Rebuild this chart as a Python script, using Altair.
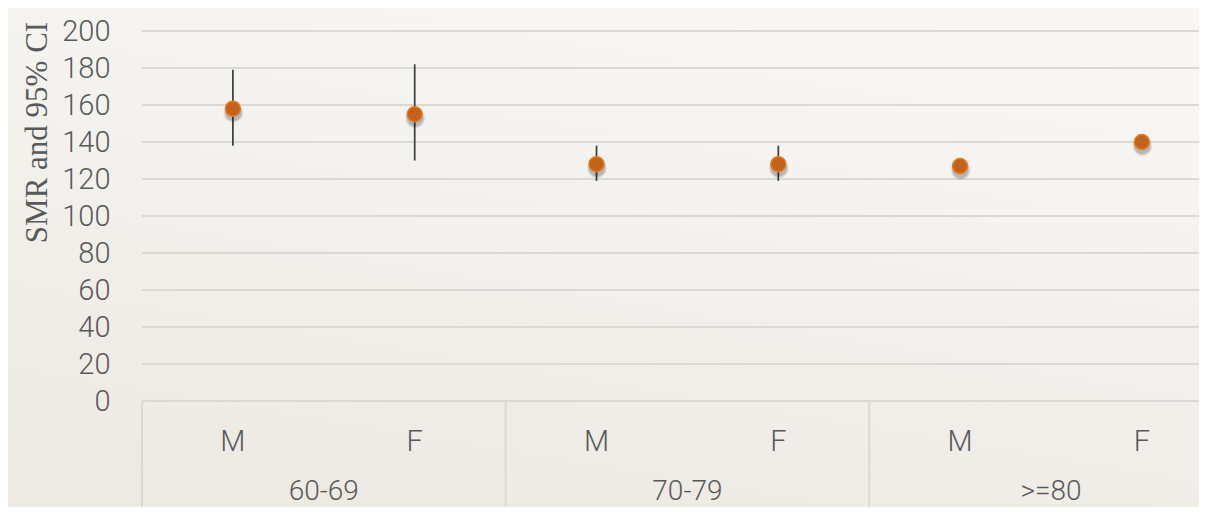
import altair as alt
import pandas as pd

# ---- data ----
positions = [0, 1, 2, 3, 4, 5]
sexes = ["M", "F", "M", "F", "M", "F"]
groups = ["60-69", "60-69", "70-79", "70-79", ">=80", ">=80"]
smr = [158, 155, 128, 128, 127, 140]
ci_low = [138, 130, 119, 119, 124, 137]
ci_high = [179, 182, 138, 138, 130, 143]

y_ticks = [0, 20, 40, 60, 80, 100, 120, 140, 160, 180, 200]
group_names = ["60-69", "70-79", ">=80"]
group_centers = [0.5, 2.5, 4.5]
separators = [-0.5, 1.5, 3.5]

df = pd.DataFrame({"pos": positions, "sex": sexes, "group": groups,
                   "smr": smr, "lo": ci_low, "hi": ci_high})
gdf = pd.DataFrame({"pos": group_centers, "group": group_names})
sdf = pd.DataFrame({"pos": separators})
tdf = pd.DataFrame({"v": y_ticks})

W, H = 1057, 370
BOTTOM = 106
LABEL_FONT = "Roboto"
LABEL_COLOR = "#595959"
GRID_COLOR = "#dbd9d4"

xscale = alt.Scale(domain=[-0.5, 5.314], nice=False, zero=False)
yscale = alt.Scale(domain=[0, 200], nice=False)

yaxis = alt.Axis(values=y_ticks, title="SMR and 95% CI",
                 grid=False, domain=False, ticks=False, tickSize=0,
                 zindex=1, labelOverlap=False, labelBound=False,
                 labelFont=LABEL_FONT, labelFontSize=29, labelFontWeight=300,
                 labelColor=LABEL_COLOR, labelPadding=32,
                 titleFont="Liberation Serif", titleFontSize=31,
                 titleFontWeight="normal", titleColor=LABEL_COLOR,
                 titleAngle=270, titleX=-105, titleY=101,
                 titleAlign="center", titleBaseline="middle")

x_enc = alt.X("pos:Q", scale=xscale, axis=None)

bg = alt.Chart(pd.DataFrame({"a": [0]})).mark_rect(
    fill=alt.Gradient(gradient="linear",
                      stops=[alt.GradientStop(color="#f8f7f4", offset=0),
                             alt.GradientStop(color="#edeae4", offset=1)],
                      x1=0.7, y1=0, x2=0.3, y2=1),
    strokeWidth=0
).encode(x=alt.value(-134), x2=alt.value(W), y=alt.value(-23), y2=alt.value(H + BOTTOM))

gridlines = alt.Chart(tdf).mark_rule(color=GRID_COLOR, strokeWidth=2).encode(
    y=alt.Y("v:Q", scale=yscale, axis=yaxis),
    x=alt.value(0), x2=alt.value(W)
)

seps = alt.Chart(sdf).mark_rule(color=GRID_COLOR, strokeWidth=2).encode(
    x=alt.X("pos:Q", scale=xscale, axis=None),
    y=alt.value(H), y2=alt.value(H + BOTTOM)
)

bars = alt.Chart(df).mark_rule(color="#404040", strokeWidth=1.75).encode(
    x=x_enc,
    y=alt.Y("lo:Q", scale=yscale, axis=yaxis),
    y2="hi:Q"
)

shadows = [
    alt.Chart(df).mark_circle(color="#000000", opacity=op, size=sz, yOffset=4, xOffset=0.5).encode(
        x=x_enc, y=alt.Y("smr:Q", scale=yscale, axis=yaxis))
    for sz, op in [(420, 0.05), (340, 0.09), (270, 0.13)]
]

points = alt.Chart(df).mark_point(
    shape="circle", filled=True, fill="#c4621b", stroke="#e17d22",
    strokeWidth=1.5, opacity=1, size=225
).encode(x=x_enc, y=alt.Y("smr:Q", scale=yscale, axis=yaxis))

sex_labels = alt.Chart(df).mark_text(
    font=LABEL_FONT, fontSize=29, fontWeight=300, color=LABEL_COLOR,
    baseline="middle", align="center"
).encode(x=x_enc, y=alt.value(H + 41), text="sex:N")

group_labels = alt.Chart(gdf).mark_text(
    font=LABEL_FONT, fontSize=28, fontWeight=300, color=LABEL_COLOR,
    baseline="middle", align="center"
).encode(x=alt.X("pos:Q", scale=xscale, axis=None), y=alt.value(H + 91), text="group:N")

chart = alt.layer(bg, gridlines, seps, bars, *shadows, points, sex_labels, group_labels).properties(
    width=W, height=H,
    autosize=alt.AutoSizeParams(type="none"),
    padding={"left": 134, "top": 23, "right": 0, "bottom": BOTTOM},
    background="#f3f1ec",
).configure_view(stroke=None, fill=None)

chart.save("out.html", embed_options={"renderer": "svg", "actions": False})
